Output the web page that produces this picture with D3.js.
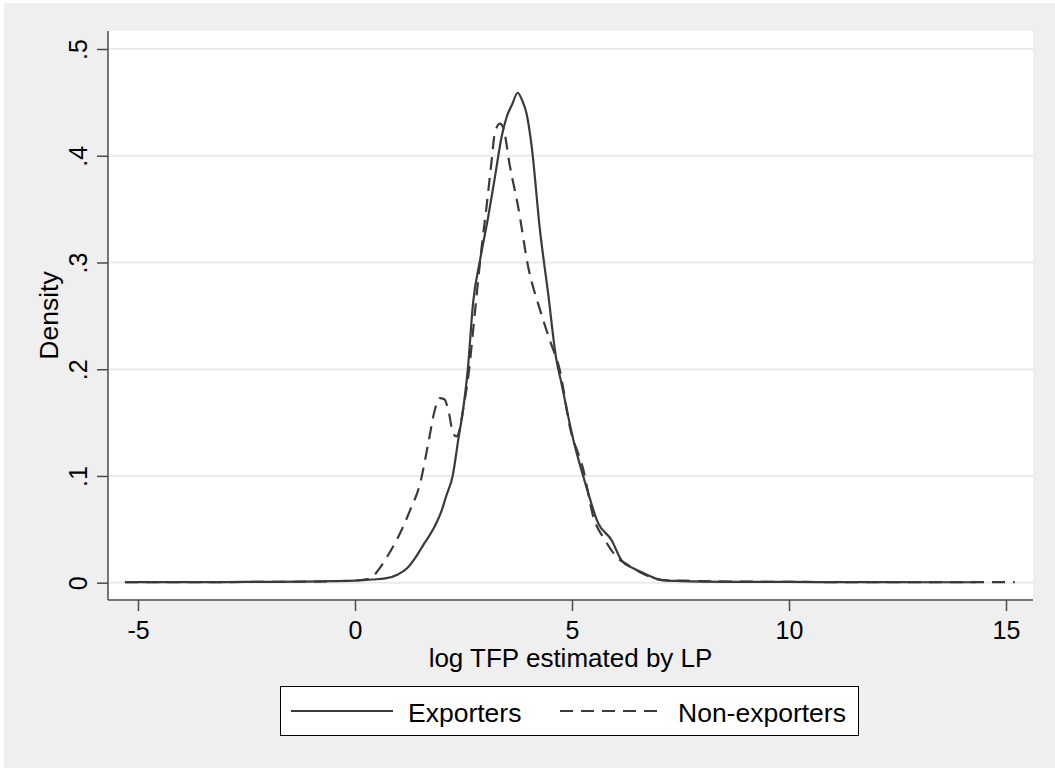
<!DOCTYPE html>
<html>
<head>
<meta charset="utf-8">
<script src="https://cdn.jsdelivr.net/npm/d3@7"></script>
<style>
  body { margin: 0; background: #fff; }
  text { font-family: "Liberation Sans", Arial, sans-serif; fill: #000; }
</style>
</head>
<body>
<svg id="chart" width="1055" height="769"></svg>
<script>
// kernel density estimates
var exportersX = [-5.3, -4, -3, -2, -1.2, -0.5, 0, 0.4, 0.7, 1.0, 1.2, 1.4, 1.6, 1.8, 2.0, 2.1, 2.25, 2.38, 2.5, 2.6, 2.72, 2.88, 3.07, 3.22, 3.38, 3.5, 3.62, 3.75, 3.85, 3.95, 4.07, 4.26, 4.45, 4.64, 4.74, 5.03, 5.33, 5.6, 5.91, 6.14, 6.41, 6.7, 7.06, 7.5, 8, 9, 10, 11, 12, 13, 14.3];
var exportersY = [0.0005, 0.0005, 0.0006, 0.0008, 0.001, 0.0015, 0.002, 0.003, 0.004, 0.008, 0.0135, 0.024, 0.037, 0.05, 0.068, 0.081, 0.1, 0.134, 0.165, 0.2, 0.262, 0.302, 0.343, 0.379, 0.418, 0.437, 0.448, 0.459, 0.452, 0.44, 0.409, 0.331, 0.271, 0.209, 0.19, 0.134, 0.09, 0.056, 0.04, 0.021, 0.0135, 0.008, 0.0025, 0.0015, 0.001, 0.0008, 0.0007, 0.0005, 0.0005, 0.0004, 0.0004];

var nonExportersX = [-5.3, -4, -3, -2, -1, 0, 0.35, 0.54, 0.75, 0.96, 1.27, 1.5, 1.69, 1.84, 1.95, 2.05, 2.15, 2.26, 2.34, 2.42, 2.49, 2.61, 2.76, 2.92, 3.03, 3.15, 3.22, 3.34, 3.41, 3.57, 3.76, 3.99, 4.26, 4.49, 4.72, 4.95, 5.26, 5.49, 5.76, 6.03, 6.29, 6.6, 7.1, 7.5, 8, 9, 10, 11, 12, 13, 14, 15.2];
var nonExportersY = [0.0005, 0.0005, 0.0006, 0.0008, 0.001, 0.002, 0.004, 0.012, 0.025, 0.04, 0.068, 0.093, 0.131, 0.162, 0.173, 0.172, 0.162, 0.14, 0.137, 0.145, 0.162, 0.193, 0.252, 0.315, 0.352, 0.396, 0.421, 0.43, 0.427, 0.39, 0.352, 0.296, 0.256, 0.227, 0.199, 0.146, 0.106, 0.062, 0.04, 0.024, 0.0166, 0.009, 0.0025, 0.002, 0.0015, 0.001, 0.0008, 0.0006, 0.0006, 0.0005, 0.0005, 0.0005];

var xTicks = [-5, 0, 5, 10, 15];
var xTickLabels = ["-5", "0", "5", "10", "15"];
var yTicks = [0, 0.1, 0.2, 0.3, 0.4, 0.5];
var yTickLabels = ["0", ".1", ".2", ".3", ".4", ".5"];
var seriesNames = ["Exporters", "Non-exporters"];

var svg = d3.select("#chart");

// outer gray background
svg.append("rect")
    .attr("x", 4).attr("y", 3)
    .attr("width", 1051).attr("height", 765)
    .style("fill", "#efefef");

var plotL = 108, plotR = 1033, plotT = 31, plotB = 600;

svg.append("rect")
    .attr("x", plotL).attr("y", plotT)
    .attr("width", plotR - plotL).attr("height", plotB - plotT)
    .style("fill", "#fff");

var x = d3.scaleLinear().domain([-5, 15]).range([138, 1006]);
var y = d3.scaleLinear().domain([0, 0.5]).range([582.7, 49]);

// gridlines
svg.append("g").selectAll("line")
    .data(yTicks)
    .enter().append("line")
    .attr("x1", plotL + 1).attr("x2", plotR)
    .attr("y1", function(d) { return y(d); })
    .attr("y2", function(d) { return y(d); })
    .style("stroke", "#eaeaea")
    .style("stroke-width", 2);

// axes
var xAxis = svg.append("g")
    .attr("transform", "translate(0," + plotB + ")")
    .call(d3.axisBottom(x).tickValues(xTicks).tickSize(11)
        .tickFormat(function(d, i) { return xTickLabels[i]; }));
xAxis.select(".domain").attr("d", "M" + plotL + ",0H" + plotR);

var yAxis = svg.append("g")
    .attr("transform", "translate(" + plotL + ",0)")
    .call(d3.axisLeft(y).tickValues(yTicks).tickSize(11)
        .tickFormat(function(d, i) { return yTickLabels[i]; }));
yAxis.select(".domain").attr("d", "M0," + plotT + "V" + plotB);

svg.selectAll(".domain, .tick line")
    .style("stroke", "#4a4a4a")
    .style("stroke-width", 1.5);

xAxis.selectAll(".tick text")
    .attr("y", 0).attr("dy", null)
    .attr("transform", "translate(0,39)")
    .style("font-size", "25px")
    .style("font-family", "Liberation Sans, Arial, sans-serif")
    .attr("fill", "#000");

yAxis.selectAll(".tick text")
    .attr("x", null).attr("dy", null)
    .attr("text-anchor", "middle")
    .attr("transform", "translate(-21,0) rotate(-90)")
    .style("font-size", "25px")
    .style("font-family", "Liberation Sans, Arial, sans-serif")
    .attr("fill", "#000");

// axis titles
svg.append("text")
    .attr("x", (plotL + plotR) / 2).attr("y", 667)
    .attr("text-anchor", "middle")
    .style("font-size", "26px")
    .text("log TFP estimated by LP");

svg.append("text")
    .attr("transform", "translate(58," + ((plotT + plotB) / 2) + ") rotate(-90)")
    .attr("text-anchor", "middle")
    .style("font-size", "26.5px")
    .text("Density");

// density curves
var line = d3.line()
    .x(function(d) { return x(d[0]); })
    .y(function(d) { return y(d[1]); })
    .curve(d3.curveMonotoneX);

var series = [
    { name: seriesNames[0], pts: d3.zip(exportersX, exportersY), dash: null },
    { name: seriesNames[1], pts: d3.zip(nonExportersX, nonExportersY), dash: "13,8" }
];

svg.append("g").selectAll("path")
    .data(series)
    .enter().append("path")
    .attr("d", function(d) { return line(d.pts); })
    .style("fill", "none")
    .style("stroke", "#3a3a3a")
    .style("stroke-width", 2.2)
    .style("stroke-dasharray", function(d) { return d.dash; });

// legend
var legend = svg.append("g");
legend.append("rect")
    .attr("x", 280.5).attr("y", 686.5)
    .attr("width", 578).attr("height", 49)
    .style("fill", "#fff")
    .style("stroke", "#000")
    .style("stroke-width", 1);

var keyX = [291, 560];
var keyTextX = [408, 678];
series.forEach(function(s, i) {
    legend.append("line")
        .attr("x1", keyX[i]).attr("x2", keyX[i] + 102)
        .attr("y1", 711).attr("y2", 711)
        .style("stroke", "#3a3a3a")
        .style("stroke-width", 2.2)
        .style("stroke-dasharray", s.dash);
    legend.append("text")
        .attr("x", keyTextX[i]).attr("y", 722)
        .style("font-size", "26.5px")
        .text(s.name);
});
</script>
</body>
</html>
